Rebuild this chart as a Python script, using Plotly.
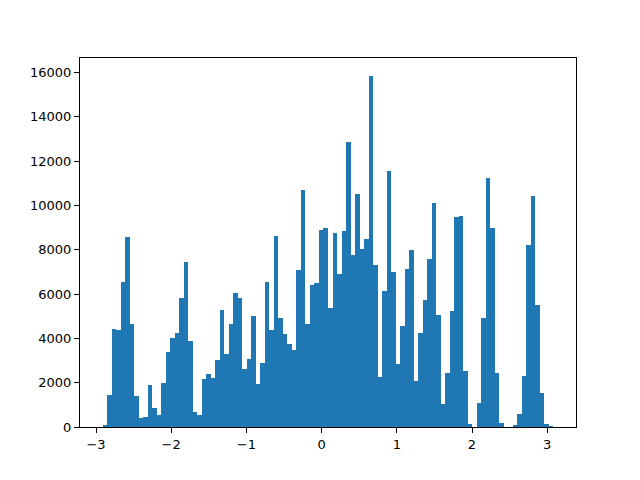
import numpy as np
import plotly.graph_objects as go

# histogram: 100 bins, counts
bin_start = -2.913
bin_end = 3.083
n_bins = 100
counts = [
    100, 1450, 4430, 4370, 6530, 8560, 4640, 1400, 405, 450,
    1890, 855, 540, 1980, 3380, 4010, 4230, 5810, 7430, 3870,
    680, 545, 2170, 2395, 2215, 3025, 5277, 3297, 4647, 6042,
    5817, 2620, 3070, 5007, 1945, 2890, 6537, 4376, 8600, 4917,
    4196, 3746, 3476, 7078, 10680, 4647, 6403, 6493, 8879, 8969,
    5367, 8744, 6898, 8834, 12841, 7753, 10500, 8023, 8474, 15857,
    7303, 2275, 6132, 11535, 6988, 2846, 4557, 7123, 7978, 2080,
    4241, 5727, 7573, 10095, 5052, 1045, 2440, 5232, 9464, 9509,
    2530, 144, 0, 1090, 4917, 11220, 8969, 2440, 190, 0,
    0, 99, 595, 2305, 8204, 10410, 5502, 1540, 135, 2,
]
x_ticks = [-3, -2, -1, 0, 1, 2, 3]
y_ticks = [0, 2000, 4000, 6000, 8000, 10000, 12000, 14000, 16000]

edges = np.linspace(bin_start, bin_end, n_bins + 1)
centers = (edges[:-1] + edges[1:]) / 2
width = edges[1] - edges[0]

fig = go.Figure()
fig.add_trace(go.Bar(x=centers, y=counts, width=width,
                     marker=dict(color="#1f77b4", line=dict(width=0))))

span = bin_end - bin_start
xr = [bin_start - 0.05 * span, bin_end + 0.05 * span]
yr = [0, max(counts) * 1.05]

axis_style = dict(showgrid=False, zeroline=False, showline=True, linecolor="black",
                  linewidth=1, mirror=True, ticks="outside", ticklen=5, tickwidth=1,
                  tickcolor="black", tickfont=dict(family="DejaVu Sans", size=13, color="black"))

fig.update_xaxes(range=xr, tickvals=x_ticks, **axis_style)
fig.update_yaxes(range=yr, tickvals=y_ticks, tickformat="d", **axis_style)

# page body adds an 8px offset, so margins are shifted to compensate
fig.update_layout(width=640, height=480, bargap=0, showlegend=False,
                  plot_bgcolor="white", paper_bgcolor="white",
                  margin=dict(l=72, r=72, t=50, b=61))

fig.write_html("out.html")
